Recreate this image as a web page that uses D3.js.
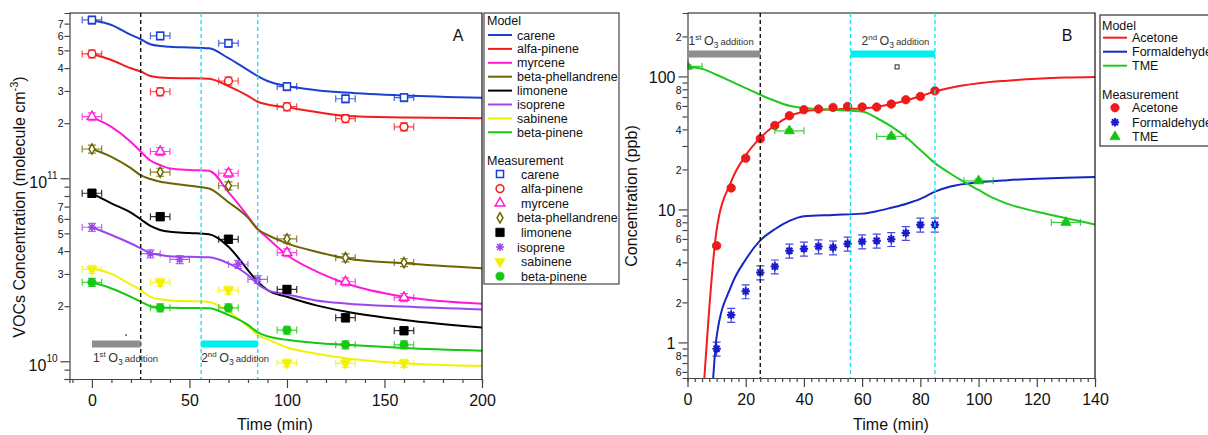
<!DOCTYPE html>
<html>
<head>
<meta charset="utf-8">
<script src="https://cdn.jsdelivr.net/npm/d3@7"></script>
<style>
  body { margin: 0; background: #fff; }
  svg { font-family: "Liberation Sans", Arial, sans-serif; }
</style>
</head>
<body>
<div id="chart"></div>
<script>
// ---------- panel A : VOC decay (values in 1e10 molecule cm-3) ----------
const vocNames   = ['carene','alfa-pinene','myrcene','beta-phellandrene','limonene','isoprene','sabinene','beta-pinene'];
const vocColors  = ['#1c3fd2','#f51a1a','#ff1ad6','#6b6400','#000000','#9a45ee','#f2f200','#14c814'];
const vocMarkers = ['square','circle','triangle','diamond','square','asterisk','triangleDown','circle'];
const vocFilled  = [false,false,false,false,true,false,true,true];

const modelTimeA = [0,10,20,25,30,35,40,50,60,70,80,85,90,100,115,130,160,200];
const modelCarene   = [73,68.8,60.7,57.5,54,52.8,52.3,51.8,51.3,45.3,39,36.2,34,31.9,30.3,29.4,28.3,27.5];
const modelAlfa     = [47.8,44.3,39.9,38.3,36.2,35.5,35.3,35.2,35,31.9,28.2,26.2,25.3,24.4,23,21.9,21.5,21.3];
const modelMyrcene  = [21.5,19.1,15.8,14,12.5,11.8,11.3,11.1,11,8.4,6.2,5.27,4.72,3.81,3.1,2.67,2.25,2.06];
const modelPhell    = [14.45,13.1,11.35,10.4,9.9,9.57,9.4,9.1,8.8,7.4,6.09,5.27,4.9,4.41,3.97,3.66,3.43,3.22];
const modelLimonene = [8.28,7.3,6.49,5.97,5.49,5.22,5.1,5.02,4.94,4.23,3.15,2.72,2.45,2.25,2.02,1.87,1.68,1.53];
const modelIsoprene = [5.4,4.9,4.4,4.14,3.89,3.81,3.75,3.72,3.7,3.43,2.96,2.64,2.45,2.32,2.15,2.07,1.99,1.92];
const modelSabinene = [3.22,3.0,2.62,2.45,2.25,2.18,2.15,2.13,2.11,1.87,1.55,1.39,1.32,1.19,1.1,1.04,0.975,0.942];
const modelBpinene  = [2.7,2.5,2.25,2.12,2.0,1.97,1.96,1.955,1.95,1.79,1.58,1.44,1.37,1.31,1.26,1.23,1.18,1.14];

const measTimeA        = [0,35,70,100,130,160];
const measTimeIsoprene = [0,30,45,75,85];
const measCarene   = [73.3,60,54.7,31.7,27.2,27.6];
const measAlfa     = [47.8,29.7,34,24.6,21.2,19.1];
const measMyrcene  = [21.7,14,10.65,3.92,2.72,2.23];
const measPhell    = [14.45,10.8,9.1,4.66,3.68,3.46];
const measLimonene = [8.28,6.17,4.64,2.47,1.73,1.47];
const measIsoprene = [5.4,3.87,3.6,3.39,2.8];
const measSabinene = [3.18,2.7,2.45,0.98,0.975,0.975];
const measBpinene  = [2.7,1.96,1.96,1.48,1.23,1.23];

const xTicksA = [-10,0,10,20,30,40,50,60,70,80,90,100,110,120,130,140,150,160,170,180,190,200];
const xLabelsA = [0,50,100,150,200];
const yTicksA = [8e9,9e9,2e10,3e10,4e10,5e10,6e10,7e10,8e10,9e10,2e11,3e11,4e11,5e11,6e11,7e11];
const yLabelledA = [2e10,3e10,4e10,5e10,6e10,7e10,2e11,3e11,4e11,5e11,6e11,7e11];
const yDecadesA = [1e10,1e11];
const yDecadeExpA = ['10','11'];

// ---------- panel B : products (ppb) ----------
const prodNames  = ['Acetone','Formaldehyde','TME'];
const prodLineColors = ['#f41c1c','#1426c6','#20c820'];
const prodMarkColors = ['#ee1a1a','#1a1ad0','#14c414'];

const modelTimeAcetone = [5.4,10,15,20,25,30,35,40,45,50,55,60,65,70,75,80,85,90,100,110,120,130,140];
const modelAcetone     = [0.4,7.0,16.2,25.5,34.5,43,50,54.5,56,56.5,57,57.5,59,62,66,71,77,82,89,93,96,98,99];
const modelTimeFormal  = [8.5,10,15,20,25,30,35,40,50,60,65,70,75,80,85,90,100,110,120,130,140];
const modelFormal      = [0.42,1.1,2.65,4.2,5.85,7.1,8.2,8.9,9.1,9.3,9.7,10.3,11.0,12.0,13.6,14.8,16.0,16.6,17.0,17.3,17.5];
const modelTimeTME     = [0,5,10,15,20,25,30,35,40,50,56,60,65,70,75,80,85,90,95,100,105,110,120,130,140];
const modelTME         = [117.6,114,103,91.7,81.8,72.8,65.6,60.2,57.9,56.2,55.2,54.6,48.7,42.1,35,28,22.3,18.8,16.1,14,12.2,11,9.6,8.6,7.7];

const measTimeB    = [10,15,20,25,30,35,40,45,50,55,60,65,70,75,80,85];
const measAcetone  = [5.33,14.5,24.3,34,42.8,50.7,56.2,56.9,58.5,59.5,58.9,58.9,62,66.8,70.7,78];
const measFormal   = [0.897,1.61,2.42,3.36,3.72,4.89,5.07,5.27,5.17,5.52,5.74,5.82,5.98,6.64,7.67,7.67];
const measTimeTME  = [0,35,70,100,130];
const measTME      = [119,39,35.4,16.4,7.98];

const xTicksB = d3.range(0, 140.01, 2.5);
const xLabelsB = [0,20,40,60,80,100,120,140];
const yTicksB = [0.6,0.7,0.8,0.9,2,3,4,5,6,7,8,9,20,30,40,50,60,70,80,90,200];
const yLabelledB = [0.6,0.8,2,4,6,8,20,40,60,80,200];
const yDecadesB = [1,10,100];

// O3 addition periods (min)
const o3First = [0,25];
const o3Second = [56,85];
const strayA = [17.5, 1.39e10];
const strayB = [72, 118];

// ---------- drawing ----------
const W = 1208, H = 435;
const svg = d3.select('#chart').append('svg').attr('width', W).attr('height', H);
const defs = svg.append('defs');

const xA = d3.scaleLinear().domain([-11.5, 200]).range([69.5, 482]);
const yA = d3.scaleLog().domain([8e9, 8e11]).range([379, 13]);
const xB = d3.scaleLinear().domain([0, 140]).range([687.5, 1095]);
const yB = d3.scaleLog().domain([0.54, 300]).range([378, 13]);

function clip(id, x, y) {
  defs.append('clipPath').attr('id', id).append('rect')
    .attr('x', x.range()[0]).attr('y', y.range()[1])
    .attr('width', x.range()[1] - x.range()[0]).attr('height', y.range()[0] - y.range()[1]);
}
clip('clipA', xA, yA);
clip('clipB', xB, yB);

function markerPath(kind, size) {
  if (kind === 'asterisk') {
    const r = Math.sqrt(size) / 2 + 0.5, a = r * 0.72;
    return `M${-r},0H${r}M0,${-r}V${r}M${-a},${-a}L${a},${a}M${-a},${a}L${a},${-a}`;
  }
  const t = { square: d3.symbolSquare, circle: d3.symbolCircle, triangle: d3.symbolTriangle,
              triangleDown: d3.symbolTriangle, diamond: d3.symbolDiamond }[kind];
  return d3.symbol(t, size)();
}

function drawMeas(g, x, y, times, vals, o) {
  const pts = times.map((t, i) => ({ t: t, v: vals[i] }));
  const eb = g.append('g').attr('stroke', o.color).attr('stroke-width', 1.2)
    .attr('stroke-opacity', 0.8).attr('fill', 'none');
  if (o.xerr) {
    eb.selectAll('path.xe').data(pts).join('path').attr('class', 'xe').attr('d', d => {
      const x0 = x(d.t - o.xerr), x1 = x(d.t + o.xerr), cy = y(d.v);
      return `M${x0},${cy}H${x1}M${x0},${cy - 3.5}V${cy + 3.5}M${x1},${cy - 3.5}V${cy + 3.5}`;
    });
  }
  if (o.yerr) {
    const cw = o.capW || 4;
    eb.selectAll('path.ye').data(pts).join('path').attr('class', 'ye').attr('d', d => {
      const y0 = y(d.v * (1 - o.yerr)), y1 = y(d.v * (1 + o.yerr)), cx = x(d.t);
      return `M${cx},${y0}V${y1}M${cx - cw},${y0}H${cx + cw}M${cx - cw},${y1}H${cx + cw}`;
    });
  }
  g.append('g').selectAll('path.mk').data(pts).join('path').attr('class', 'mk')
    .attr('transform', d => `translate(${x(d.t)},${y(d.v)})` + (o.kind === 'triangleDown' ? ' rotate(180)' : ''))
    .attr('d', markerPath(o.kind, o.size))
    .attr('fill', o.kind === 'asterisk' ? 'none' : (o.filled ? o.color : '#fff'))
    .attr('stroke', o.color).attr('stroke-width', o.sw || (o.filled ? 0.8 : 1.5));
}

function drawModel(g, x, y, times, vals, color, scale) {
  const line = d3.line().x((d, i) => x(times[i])).y(d => y(d * scale)).curve(d3.curveMonotoneX);
  g.append('path').datum(vals).attr('d', line)
    .attr('fill', 'none').attr('stroke', color).attr('stroke-width', 2);
}

function frame(x, y) {
  svg.append('path')
    .attr('d', `M${x.range()[0]},${y.range()[1]}H${x.range()[1]}V${y.range()[0]}`)
    .attr('fill', 'none').attr('stroke', '#111').attr('stroke-width', 1.2);
}

function xAxis(x, y, ticks, labels) {
  const g = svg.append('g').attr('transform', `translate(0,${y.range()[0]})`)
    .call(d3.axisBottom(x).tickValues(ticks).tickSizeOuter(0).tickSize(4).tickFormat(''));
  g.select('.domain').attr('stroke', '#444').attr('stroke-width', 1.2);
  g.selectAll('.tick line').attr('stroke', '#444').attr('stroke-width', 1.2)
    .attr('y2', d => labels.includes(d) ? 9 : 4);
  g.selectAll('.tick').filter(d => labels.includes(d)).append('text')
    .attr('y', 27).attr('fill', '#111').attr('font-size', 16).attr('text-anchor', 'middle')
    .text(d => d);
  return g;
}

function yAxis(x, y, ticks, labelled, decades, decadeText) {
  const g = svg.append('g').attr('transform', `translate(${x.range()[0]},0)`)
    .call(d3.axisLeft(y).tickValues(ticks.concat(decades)).tickSizeOuter(0).tickSize(5).tickFormat(''));
  g.select('.domain').attr('stroke', '#444').attr('stroke-width', 1.2);
  g.selectAll('.tick line').attr('stroke', '#444').attr('stroke-width', 1.2)
    .attr('x2', d => decades.includes(d) ? -9 : -5);
  g.selectAll('.tick').filter(d => labelled.includes(d)).append('text')
    .attr('x', -6).attr('dy', '0.36em').attr('font-size', 10.5).attr('fill', '#111')
    .attr('text-anchor', 'end').text(d => Math.round(d / Math.pow(10, Math.floor(Math.log10(d) + 1e-9))));
  g.selectAll('.tick').filter(d => decades.includes(d)).each(function (d, i) {
    decadeText(d3.select(this), d, i);
  });
  return g;
}

// ----- panel A -----
const gA = svg.append('g');
yAxis(xA, yA, yTicksA, yLabelledA, yDecadesA, (t, d, i) => {
  const tx = t.append('text').attr('x', -12).attr('dy', '0.55em').attr('text-anchor', 'end')
    .attr('fill', '#111').attr('font-size', 16);
  tx.append('tspan').text('10');
  tx.append('tspan').attr('font-size', 10).attr('dy', -9).text(yDecadeExpA[i]);
});
xAxis(xA, yA, xTicksA, xLabelsA);
frame(xA, yA);

function vLines(x, y) {
  const vl = svg.append('g').attr('stroke-width', 1.4).attr('stroke-dasharray', '4,3');
  vl.append('line').attr('x1', x(o3First[1])).attr('x2', x(o3First[1]))
    .attr('y1', y.range()[1]).attr('y2', y.range()[0]).attr('stroke', '#111');
  [o3Second[0], o3Second[1]].forEach(t => {
    vl.append('line').attr('x1', x(t)).attr('x2', x(t))
      .attr('y1', y.range()[1]).attr('y2', y.range()[0]).attr('stroke', '#1fe3f0');
  });
}
vLines(xA, yA);

function o3Bars(x, barY, textY, textX2) {
  svg.append('rect').attr('x', x(o3First[0])).attr('y', barY)
    .attr('width', x(o3First[1]) - x(o3First[0])).attr('height', 7).attr('fill', '#8e8e8e');
  svg.append('rect').attr('x', x(o3Second[0])).attr('y', barY)
    .attr('width', x(o3Second[1]) - x(o3Second[0])).attr('height', 7).attr('fill', '#00f0f0');
  [[x(o3First[0]) + 1, '1', 'st'], [textX2, '2', 'nd']].forEach(([tx, n, sfx]) => {
    const t = svg.append('text').attr('x', tx).attr('y', textY).attr('fill', '#333').attr('font-size', 12);
    t.append('tspan').text(n);
    t.append('tspan').attr('font-size', 8).attr('dy', -5).text(sfx);
    t.append('tspan').attr('font-size', 12.5).attr('dy', 5).attr('dx', 2.5).text('O');
    t.append('tspan').attr('font-size', 8.5).attr('dy', 3).text('3');
    t.append('tspan').attr('font-size', 9.5).attr('dy', -3).attr('dx', 2).text('addition');
  });
}
o3Bars(xA, 340.5, 361.5, xA(o3Second[0]));

const plotA = gA.append('g').attr('clip-path', 'url(#clipA)');
const modelsA = [modelCarene, modelAlfa, modelMyrcene, modelPhell, modelLimonene, modelIsoprene, modelSabinene, modelBpinene];
const measA = [measCarene, measAlfa, measMyrcene, measPhell, measLimonene, measIsoprene, measSabinene, measBpinene];
modelsA.forEach((m, i) => drawModel(plotA, xA, yA, modelTimeA, m, vocColors[i], 1e10));
const sizesA = [50, 48, 40, 30, 70, 50, 45, 52];
measA.forEach((m, i) => drawMeas(plotA, xA, yA, i === 5 ? measTimeIsoprene : measTimeA,
  m.map(v => v * 1e10),
  { color: vocColors[i], kind: vocMarkers[i], filled: vocFilled[i], size: sizesA[i], xerr: 5, yerr: 0.05 }));
plotA.append('circle').attr('cx', xA(strayA[0])).attr('cy', yA(strayA[1])).attr('r', 0.8).attr('fill', '#000');

svg.append('text').attr('x', 458).attr('y', 41).attr('text-anchor', 'middle')
  .attr('font-size', 16).attr('fill', '#111').text('A');

// axis titles A
const ytA = svg.append('text').attr('transform', 'translate(25,207) rotate(-90)')
  .attr('text-anchor', 'middle').attr('font-size', 16).attr('fill', '#111');
ytA.append('tspan').text('VOCs Concentration (molecule cm');
ytA.append('tspan').attr('font-size', 11).attr('dy', -7).text('-3');
ytA.append('tspan').attr('dy', 7).text(')');
svg.append('text').attr('x', 275).attr('y', 430).attr('text-anchor', 'middle')
  .attr('font-size', 16).attr('fill', '#111').text('Time (min)');

// legend A
const legA = svg.append('g').attr('font-size', 12.5).attr('fill', '#111');
legA.append('rect').attr('x', 484).attr('y', 13).attr('width', 135).attr('height', 271)
  .attr('fill', '#fff').attr('stroke', '#555').attr('stroke-width', 1.3);
legA.append('text').attr('x', 487).attr('y', 25).text('Model');
vocNames.forEach((n, i) => {
  const yy = 35 + 13.9 * i;
  legA.append('line').attr('x1', 488).attr('x2', 512).attr('y1', yy).attr('y2', yy)
    .attr('stroke', vocColors[i]).attr('stroke-width', 2);
  legA.append('text').attr('x', 517).attr('y', yy + 4.5).text(n);
});
legA.append('text').attr('x', 487).attr('y', 164.5).text('Measurement');
vocNames.forEach((n, i) => {
  const yy = 174 + 14.6 * i;
  legA.append('path')
    .attr('transform', `translate(500,${yy})` + (vocMarkers[i] === 'triangleDown' ? ' rotate(180)' : ''))
    .attr('d', markerPath(vocMarkers[i], sizesA[i]))
    .attr('fill', vocMarkers[i] === 'asterisk' ? 'none' : (vocFilled[i] ? vocColors[i] : '#fff'))
    .attr('stroke', vocColors[i]).attr('stroke-width', vocFilled[i] ? 0.8 : 1.5);
  legA.append('text').attr('x', (i === 3 || i === 5) ? 517 : 521).attr('y', yy + 4.5).text(n);
});

// ----- panel B -----
const gB = svg.append('g');
yAxis(xB, yB, yTicksB, yLabelledB, yDecadesB, (t, d) => {
  t.append('text').attr('x', -12).attr('dy', '0.38em').attr('text-anchor', 'end')
    .attr('fill', '#111').attr('font-size', 16).text(d);
});
xAxis(xB, yB, xTicksB, xLabelsB);
frame(xB, yB);
vLines(xB, yB);
o3Bars(xB, 50.5, 45, xB(o3Second[0]) + 11);

const plotB = gB.append('g').attr('clip-path', 'url(#clipB)');
drawModel(plotB, xB, yB, modelTimeAcetone, modelAcetone, prodLineColors[0], 1);
drawModel(plotB, xB, yB, modelTimeFormal, modelFormal, prodLineColors[1], 1);
drawModel(plotB, xB, yB, modelTimeTME, modelTME, prodLineColors[2], 1);
drawMeas(plotB, xB, yB, measTimeB, measFormal,
  { color: prodMarkColors[1], kind: 'asterisk', filled: false, size: 55, sw: 2, yerr: 0.12, capW: 4 });
drawMeas(plotB, xB, yB, measTimeB, measAcetone,
  { color: prodMarkColors[0], kind: 'circle', filled: true, size: 56, yerr: 0.03 });
drawMeas(plotB, xB, yB, measTimeTME, measTME,
  { color: prodMarkColors[2], kind: 'triangle', filled: true, size: 44, xerr: 5, yerr: 0.03 });
plotB.append('rect').attr('x', xB(strayB[0]) - 2).attr('y', yB(strayB[1]) - 2)
  .attr('width', 4).attr('height', 4).attr('fill', '#fff').attr('stroke', '#111').attr('stroke-width', 0.9);

svg.append('text').attr('x', 1067).attr('y', 41).attr('text-anchor', 'middle')
  .attr('font-size', 16).attr('fill', '#111').text('B');

svg.append('text').attr('transform', 'translate(637,196) rotate(-90)')
  .attr('text-anchor', 'middle').attr('font-size', 16).attr('fill', '#111').text('Concentration (ppb)');
svg.append('text').attr('x', 891).attr('y', 430).attr('text-anchor', 'middle')
  .attr('font-size', 16).attr('fill', '#111').text('Time (min)');

// legend B
const legB = svg.append('g').attr('font-size', 12.5).attr('fill', '#111');
legB.append('rect').attr('x', 1100).attr('y', 15).attr('width', 130).attr('height', 131)
  .attr('fill', '#fff').attr('stroke', '#333').attr('stroke-width', 1.2);
legB.append('text').attr('x', 1102).attr('y', 29.5).text('Model');
prodNames.forEach((n, i) => {
  const yy = 37.7 + 14 * i;
  legB.append('line').attr('x1', 1103).attr('x2', 1127).attr('y1', yy).attr('y2', yy)
    .attr('stroke', prodLineColors[i]).attr('stroke-width', 2);
  legB.append('text').attr('x', 1132).attr('y', yy + 4.5).text(n);
});
legB.append('text').attr('x', 1102).attr('y', 98.5).text('Measurement');
const legKindsB = ['circle', 'asterisk', 'triangle'];
const legSizesB = [56, 55, 44];
prodNames.forEach((n, i) => {
  const yy = 107.7 + 14.5 * i;
  legB.append('path').attr('transform', `translate(1115,${yy})`)
    .attr('d', markerPath(legKindsB[i], legSizesB[i]))
    .attr('fill', legKindsB[i] === 'asterisk' ? 'none' : prodMarkColors[i])
    .attr('stroke', prodMarkColors[i]).attr('stroke-width', legKindsB[i] === 'asterisk' ? 2 : 0.8);
  legB.append('text').attr('x', 1132).attr('y', yy + 4.5).text(n);
});
</script>
</body>
</html>
